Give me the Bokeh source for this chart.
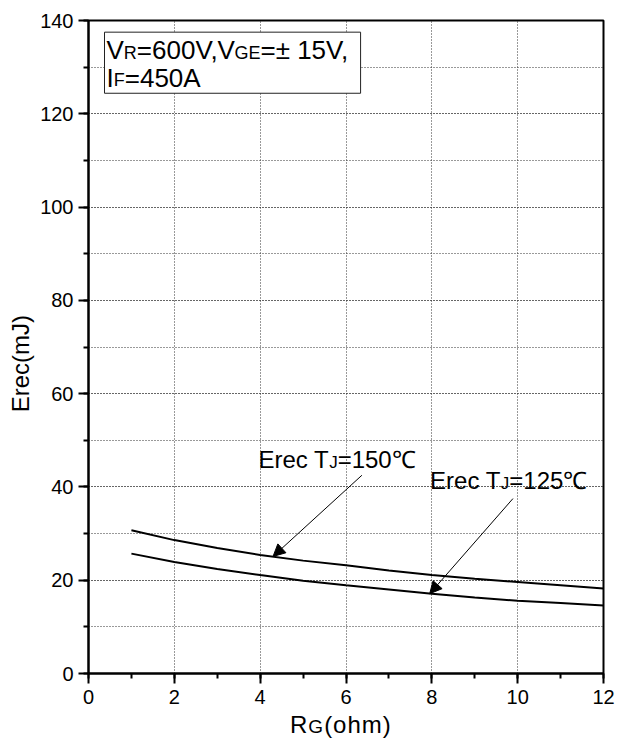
from bokeh.plotting import figure
from bokeh.models import (Range1d, SingleIntervalTicker,
                          Arrow, NormalHead, Div)
from bokeh.layouts import column
from bokeh.core.properties import value
from bokeh.embed import file_html
from bokeh.resources import INLINE

# ---- data ----
rg = [1, 2, 3, 4, 5, 6, 7, 8, 9, 10, 11, 12]
erec_150 = [30.7, 28.6, 26.9, 25.4, 24.2, 23.2, 22.1, 21.1, 20.3, 19.6, 18.9, 18.2]
erec_125 = [25.7, 23.9, 22.4, 21.1, 19.9, 18.9, 18.0, 17.1, 16.3, 15.6, 15.1, 14.6]

FONT = "Liberation Sans"

p = figure(width=622, height=710, output_backend="svg", toolbar_location=None,
           x_range=Range1d(0, 12), y_range=Range1d(0, 140),
           min_border_left=88, min_border_right=19, min_border_top=20,
           min_border_bottom=37)
p.background_fill_color = "white"
p.border_fill_color = "white"
p.outline_line_color = "black"
p.outline_line_width = 2

p.xaxis.ticker = SingleIntervalTicker(interval=2, num_minor_ticks=2)
p.yaxis.ticker = SingleIntervalTicker(interval=20, num_minor_ticks=2)
for ax in (p.xaxis, p.yaxis):
    ax.axis_line_width = 2
    ax.axis_line_color = "black"
    ax.major_tick_line_width = 2
    ax.minor_tick_line_width = 2
    ax.major_tick_out = 10
    ax.major_tick_in = 0
    ax.minor_tick_out = 5
    ax.minor_tick_in = 0
    ax.major_label_text_font = FONT
    ax.major_label_text_font_size = "20px"
    ax.major_label_text_color = "black"
p.xaxis.major_label_standoff = 6
p.yaxis.major_label_standoff = 5

# y axis title (trailing no-break spaces shift it slightly down like the reference)
p.yaxis.axis_label = "Erec(mJ)" + "\u00a0" * 5
p.yaxis.axis_label_text_font = FONT
p.yaxis.axis_label_text_font_size = "24px"
p.yaxis.axis_label_text_font_style = "normal"
p.yaxis.axis_label_text_color = "black"
p.yaxis.axis_label_standoff = 3

p.xgrid.grid_line_color = "#333333"
p.xgrid.grid_line_dash = "1 2"
p.xgrid.grid_line_width = 1
p.ygrid.grid_line_color = "#333333"
p.ygrid.grid_line_dash = "1 2"
p.ygrid.grid_line_width = 1
p.ygrid.minor_grid_line_color = "#333333"
p.ygrid.minor_grid_line_dash = "1 2"
p.ygrid.minor_grid_line_width = 1

p.line(rg, erec_150, line_color="black", line_width=2)
p.line(rg, erec_125, line_color="black", line_width=2)

# ---- rich text helper (Arial/Liberation metrics) ----
W = {' ': 278, ',': 278, '=': 584, '\u00b1': 584, '(': 333, ')': 333, 'A': 667,
     'C': 722, 'E': 667, 'F': 611, 'G': 778, 'I': 278, 'J': 500, 'R': 722,
     'T': 611, 'V': 667, 'c': 500, 'e': 556, 'h': 556, 'm': 833, 'o': 556,
     'r': 333, '\u2103': 1000}
for d in "0123456789":
    W[d] = 556
KERN = {"V,": -110}
BASE_SHIFT = 0.33  # measured: rendered baseline sits this fraction of size below anchor


def width(s, size):
    w = sum(W.get(ch, 556) for ch in s)
    w += sum(KERN.get(s[i:i + 2], 0) for i in range(len(s) - 1))
    return w * size / 1000.0


def rich(x, y, segments):
    off = 0.0
    for txt, size in segments:
        p.text(x=[x], y=[y], text=[txt], x_offset=off, y_offset=-BASE_SHIFT * size,
               text_font=value(FONT), text_font_size=f"{size}px",
               text_color="black", text_baseline="alphabetic", text_align="left")
        off += width(txt, size)


# condition box (drawn before its text)
p.quad(left=[0.373], right=[6.34], top=[137.5], bottom=[124.4],
       fill_color="white", line_color="#222222", line_width=1)
rich(0.42, 131.8, [("V", 26), ("R", 18), ("=600V,V", 26), ("GE", 18), ("=\u00b1 15V,", 26)])
rich(0.42, 125.9, [("I", 26), ("F", 18), ("=450A", 26)])

# curve labels and arrows
rich(3.96, 44.1, [("Erec T", 24), ("J", 17), ("=150\u2103", 24)])
rich(7.96, 39.6, [("Erec T", 24), ("J", 17), ("=125\u2103", 24)])
p.add_layout(Arrow(end=NormalHead(size=12, fill_color="black", line_color="black"),
                   x_start=6.37, y_start=42.5, x_end=4.3, y_end=25.1,
                   line_color="black", line_width=1))
p.add_layout(Arrow(end=NormalHead(size=12, fill_color="black", line_color="black"),
                   x_start=9.89, y_start=37.5, x_end=7.95, y_end=17.1,
                   line_color="black", line_width=1))

# x axis title with subscript
xtitle = Div(
    text=('<div style="font-family:\'Liberation Sans\';font-size:24px;color:black;'
          'line-height:24px;padding-top:3px;padding-left:290px;white-space:nowrap;'
          'letter-spacing:1px;">'
          'R<span style="font-size:19px;">G</span>(ohm)</div>'),
    width=622, height=33, margin=0)

layout = column(p, xtitle, spacing=0)
open("out.html", "w").write(file_html(layout, INLINE))
